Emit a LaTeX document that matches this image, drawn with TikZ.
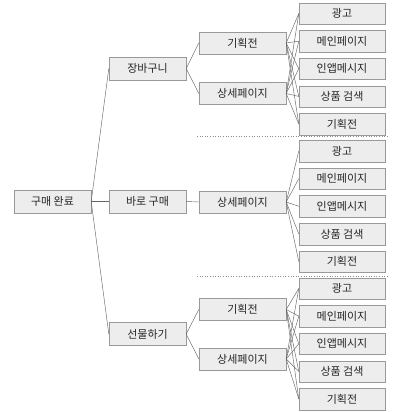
\documentclass[tikz,border=0pt]{standalone}
\usepackage{fontspec}
\setmainfont{Noto Sans CJK KR}
\usetikzlibrary{positioning,shadows}
\tikzset{
  basic/.style  = {draw=black!40, fill=black!7, rectangle, inner sep=0pt,
  font=\fontsize{11}{13}\selectfont, text=black!85,
  drop shadow={shadow xshift=0.5pt, shadow yshift=-0.5pt, fill=black!45, opacity=1}},
  root/.style   = {basic, minimum width=77pt, minimum height=23pt},
  level 1/.style = {basic, minimum width=77pt, minimum height=23pt},
  level 2/.style = {basic, minimum width=87pt, minimum height=22pt},
  leaf/.style   = {basic, minimum width=86pt, minimum height=21.5pt},
  link/.style   = {draw=black!60, line width=0.45pt},
  sep/.style    = {draw=black!45, dotted, line width=0.6pt}
}
\begin{document}
\begin{tikzpicture}[x=1pt,y=-1pt]
\useasboundingbox (0,0) rectangle (400,412);
% root and first level
\node[root] (done) at (52.5,201.5) {구매 완료};
\node[level 1] (cart) at (147.5,68.5) {장바구니};
\node[level 1] (direct) at (147.5,201.5) {바로 구매};
\node[level 1] (gift) at (147.5,334) {선물하기};
% second level
\node[level 2] (cart_event) at (242.5,43) {기획전};
\node[level 2] (cart_detail) at (242.5,93.5) {상세페이지};
\node[level 2] (direct_detail) at (242.5,202) {상세페이지};
\node[level 2] (gift_event) at (242.5,309.5) {기획전};
\node[level 2] (gift_detail) at (242.5,359) {상세페이지};
% leaves of the cart group
\node[leaf] (cart_ad) at (342,13.5) {광고};
\node[below=5.75pt of cart_ad,leaf] (cart_main) {메인페이지};
\node[below=5.75pt of cart_main,leaf] (cart_inapp) {인앱메시지};
\node[below=5.75pt of cart_inapp,leaf] (cart_search) {상품 검색};
\node[below=5.75pt of cart_search,leaf] (cart_plan) {기획전};
% leaves of the direct group
\node[leaf] (direct_ad) at (342,151) {광고};
\node[below=5.75pt of direct_ad,leaf] (direct_main) {메인페이지};
\node[below=5.75pt of direct_main,leaf] (direct_inapp) {인앱메시지};
\node[below=5.75pt of direct_inapp,leaf] (direct_search) {상품 검색};
\node[below=5.75pt of direct_search,leaf] (direct_plan) {기획전};
% leaves of the gift group
\node[leaf] (gift_ad) at (342,288.5) {광고};
\node[below=5.75pt of gift_ad,leaf] (gift_main) {메인페이지};
\node[below=5.75pt of gift_main,leaf] (gift_inapp) {인앱메시지};
\node[below=5.75pt of gift_inapp,leaf] (gift_search) {상품 검색};
\node[below=5.75pt of gift_search,leaf] (gift_plan) {기획전};

\coordinate (sep1_w) at (197,136);
\coordinate (sep1_e) at (387,136);
\coordinate (sep2_w) at (197,276);
\coordinate (sep2_e) at (387,276);
\path[sep] (sep1_w) edge [] (sep1_e);
\path[sep] (sep2_w) edge [] (sep2_e);

\path[link] (done.east) edge [] (cart.west);
\path[link] (done.east) edge [] (direct.west);
\path[link] (done.east) edge [] (gift.west);
\path[link] (cart.east) edge [] (cart_event.west);
\path[link] (cart.east) edge [] (cart_detail.west);
\path[link] (direct.east) edge [] (direct_detail.west);
\path[link] (gift.east) edge [] (gift_event.west);
\path[link] (gift.east) edge [] (gift_detail.west);
\path[link] (cart_event.east) edge (cart_ad.west) edge (cart_main.west)
  edge (cart_inapp.west) edge (cart_search.west) edge (cart_plan.west);
\path[link] (cart_detail.east) edge (cart_ad.west) edge (cart_main.west)
  edge (cart_inapp.west) edge (cart_search.west) edge (cart_plan.west);
\path[link] (direct_detail.east) edge (direct_ad.west) edge (direct_main.west)
  edge (direct_inapp.west) edge (direct_search.west) edge (direct_plan.west);
\path[link] (gift_event.east) edge (gift_ad.west) edge (gift_main.west)
  edge (gift_inapp.west) edge (gift_search.west) edge (gift_plan.west);
\path[link] (gift_detail.east) edge (gift_ad.west) edge (gift_main.west)
  edge (gift_inapp.west) edge (gift_search.west) edge (gift_plan.west);
\end{tikzpicture}
\end{document}
